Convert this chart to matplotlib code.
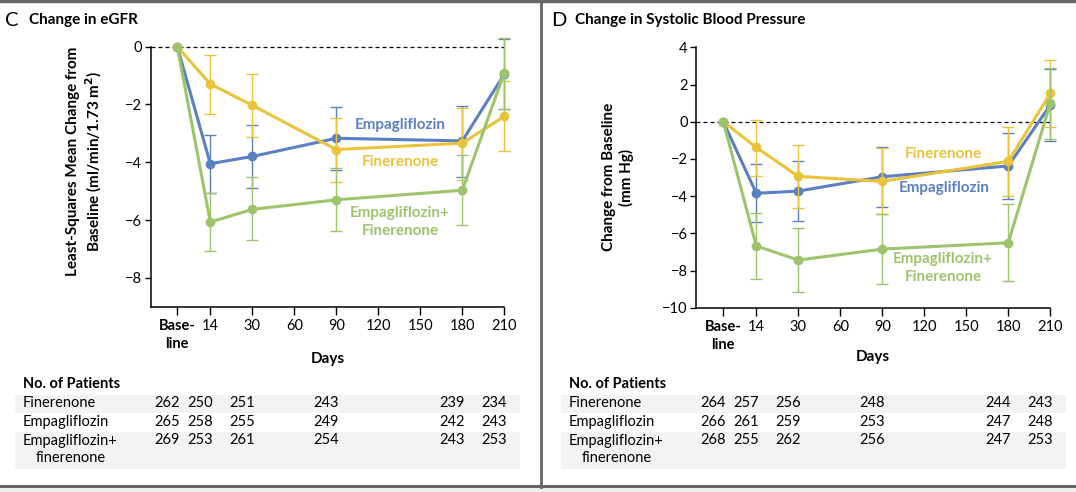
import matplotlib
matplotlib.use('Agg')
import matplotlib.pyplot as plt
import matplotlib.transforms as mtrans
from matplotlib.patches import Rectangle
from matplotlib.lines import Line2D

plt.rcParams['font.family'] = ['Lato', 'DejaVu Sans']

# ---------------- data ----------------
days = ['Baseline', 14, 30, 90, 180, 210]
ci_days = [14, 30, 90, 180, 210]
tick_days = ['Baseline', 14, 30, 60, 90, 120, 150, 180, 210]
tick_labels = ['Base-\nline', '14', '30', '60', '90', '120', '150', '180', '210']
series_names = ['Finerenone', 'Empagliflozin', 'Empagliflozin+\nfinerenone']

# Panel C: change in eGFR
egfr_emp = [0, -4.05, -3.80, -3.17, -3.26, -0.95]
egfr_emp_lo = [-5.06, -4.90, -4.26, -4.51, -2.15]
egfr_emp_hi = [-3.06, -2.71, -2.09, -2.07, 0.25]
egfr_fin = [0, -1.29, -2.03, -3.56, -3.34, -2.41]
egfr_fin_lo = [-2.33, -3.13, -4.68, -4.60, -3.61]
egfr_fin_hi = [-0.30, -0.95, -2.47, -2.11, -1.18]
egfr_combo = [0, -6.07, -5.63, -5.30, -4.97, -0.90]
egfr_combo_lo = [-7.08, -6.68, -6.37, -6.16, -2.15]
egfr_combo_hi = [-5.06, -4.51, -4.20, -3.75, 0.29]
egfr_patients_fin = [262, 250, 251, 243, 239, 234]
egfr_patients_emp = [265, 258, 255, 249, 242, 243]
egfr_patients_combo = [269, 253, 261, 254, 243, 253]

# Panel D: change in systolic blood pressure
sbp_emp = [0, -3.85, -3.73, -2.96, -2.38, 0.90]
sbp_emp_lo = [-5.39, -5.34, -4.59, -4.16, -1.02]
sbp_emp_hi = [-2.28, -2.11, -1.38, -0.61, 2.83]
sbp_fin = [0, -1.38, -2.94, -3.21, -2.13, 1.52]
sbp_fin_lo = [-2.94, -4.66, -4.98, -4.01, -0.29]
sbp_fin_hi = [0.09, -1.25, -1.42, -0.29, 3.30]
sbp_combo = [0, -6.68, -7.44, -6.85, -6.51, 1.00]
sbp_combo_lo = [-8.44, -9.16, -8.73, -8.55, -0.95]
sbp_combo_hi = [-4.93, -5.73, -4.98, -4.44, 2.87]
sbp_patients_fin = [264, 257, 256, 248, 244, 243]
sbp_patients_emp = [266, 261, 259, 253, 247, 248]
sbp_patients_combo = [268, 255, 262, 256, 247, 253]

# ---------------- style ----------------
BLUE = '#5b80c2'
YELLOW = '#e8c33b'
GREEN = '#9dc46c'
BORDER = '#676767'
BAND = '#f3f3f3'

W, H = 1076, 492
fig = plt.figure(figsize=(W / 100, H / 100), dpi=100)


def fx(x):
    return x / W


def fy(y):
    return 1 - y / H


def xpos(d):
    # visit axis: baseline, 14 days, then equally spaced 30-day steps
    if d == 'Baseline':
        return 0.0
    if d == 14:
        return 33 / 42
    return 75 / 42 + (d - 30) / 30


def make_axes(left_px, right_px, top_px, bottom_px, ylim, yticks):
    ax = fig.add_axes([fx(left_px), fy(bottom_px), (right_px - left_px) / W,
                       (bottom_px - top_px) / H])
    ax.set_ylim(*ylim)
    ax.spines['top'].set_visible(False)
    ax.spines['right'].set_visible(False)
    for s in ('left', 'bottom'):
        ax.spines[s].set_linewidth(1.1)
    ax.set_xticks([xpos(d) for d in tick_days])
    ax.set_xticklabels(tick_labels, fontsize=10.5)
    first = ax.get_xticklabels()[0]
    first.set_fontweight('bold')
    first.set_linespacing(1.45)
    ax.set_yticks(yticks)
    ax.set_yticklabels([f'{v}'.replace('-', '\u2212') for v in yticks], fontsize=10.5)
    ax.tick_params(axis='x', direction='out', length=5.5, width=1.0, pad=3)
    ax.tick_params(axis='y', direction='out', length=4, width=1.0, pad=2)
    ax.set_facecolor('none')
    ax.axhline(0, color='black', lw=0.9, ls=(0, (3.2, 2.4)), clip_on=False, zorder=1)
    return ax


def draw_series(ax, vals, lo, hi, color, z):
    xs = [xpos(d) for d in days]
    ax.plot(xs, vals, color=color, lw=2.2, marker='o', ms=6, mec=color, mfc=color,
            zorder=z, clip_on=False)
    cx = [xpos(d) for d in ci_days]
    centers = vals[1:]
    yerr = [[c - l for c, l in zip(centers, lo)], [h - c for c, h in zip(centers, hi)]]
    ax.errorbar(cx, centers, yerr=yerr, fmt='none', ecolor=color, elinewidth=1.0,
                capsize=4.2, capthick=1.0, zorder=z - 0.5, clip_on=False)


# ---------------- frame ----------------
fig.add_artist(Rectangle((0, 0), 1, fy(487), transform=fig.transFigure,
                         facecolor='#efeeec', edgecolor='none', zorder=0))
fig.add_artist(Line2D([0, 1], [fy(1), fy(1)], transform=fig.transFigure,
                      color=BORDER, lw=2.5))
fig.add_artist(Line2D([fx(541), fx(541)], [fy(0), fy(487)], transform=fig.transFigure,
                      color=BORDER, lw=2.0))
fig.add_artist(Line2D([0, 1], [fy(486), fy(486)], transform=fig.transFigure,
                      color=BORDER, lw=2.2))

# ---------------- panel C ----------------
axC = make_axes(150.7, 504.3, 46.7, 306.7, (-9, 0), [0, -2, -4, -6, -8])
axC.set_xlim(-26.6 / 42, xpos(210))
draw_series(axC, egfr_emp, egfr_emp_lo, egfr_emp_hi, BLUE, 3)
draw_series(axC, egfr_fin, egfr_fin_lo, egfr_fin_hi, YELLOW, 4)
draw_series(axC, egfr_combo, egfr_combo_lo, egfr_combo_hi, GREEN, 5)

# ---------------- panel D ----------------
axD = make_axes(696, 1050.3, 47.3, 307.7, (-10, 4), [4, 2, 0, -2, -4, -6, -8, -10])
axD.set_xlim(-27.3 / 42, xpos(210))
draw_series(axD, sbp_emp, sbp_emp_lo, sbp_emp_hi, BLUE, 3)
draw_series(axD, sbp_fin, sbp_fin_lo, sbp_fin_hi, YELLOW, 4)
draw_series(axD, sbp_combo, sbp_combo_lo, sbp_combo_hi, GREEN, 5)

# ---------------- titles and labels ----------------
fig.text(fx(5), fy(20), 'C', fontsize=14.5, va='center', ha='left')
fig.text(fx(29), fy(20), 'Change in eGFR', fontsize=11, fontweight='bold', va='center', ha='left')
fig.text(fx(551), fy(20), 'D', fontsize=14.5, va='center', ha='left')
fig.text(fx(575), fy(20), 'Change in Systolic Blood Pressure', fontsize=11, fontweight='bold',
         va='center', ha='left')

fig.text(fx(85), fy(161), 'Least-Squares Mean Change from\nBaseline (ml/min/1.73 m$^{\\mathbf{2}}$)',
         rotation=90, fontsize=11, fontweight='bold', ha='center', va='center',
         multialignment='center', linespacing=1.25)
fig.text(fx(618), fy(177), 'Change from Baseline\n(mm Hg)', rotation=90, fontsize=11,
         fontweight='bold', ha='center', va='center', multialignment='center', linespacing=1.25)

fig.text(fx(327.5), fy(359), 'Days', fontsize=11, fontweight='bold', ha='center', va='center')
fig.text(fx(873), fy(357), 'Days', fontsize=11, fontweight='bold', ha='center', va='center')

# in-plot series labels
fig.text(fx(400), fy(125), 'Empagliflozin', color=BLUE, fontsize=11, fontweight='bold',
         ha='center', va='center')
fig.text(fx(400), fy(162), 'Finerenone', color=YELLOW, fontsize=11, fontweight='bold',
         ha='center', va='center')
fig.text(fx(400), fy(222), 'Empagliflozin+\nFinerenone', color=GREEN, fontsize=11,
         fontweight='bold', ha='center', va='center', linespacing=1.3)
fig.text(fx(943), fy(154), 'Finerenone', color=YELLOW, fontsize=11, fontweight='bold',
         ha='center', va='center')
fig.text(fx(944), fy(188), 'Empagliflozin', color=BLUE, fontsize=11, fontweight='bold',
         ha='center', va='center')
fig.text(fx(943), fy(268), 'Empagliflozin+\nFinerenone', color=GREEN, fontsize=11,
         fontweight='bold', ha='center', va='center', linespacing=1.3)


# ---------------- patient tables ----------------
def draw_table(ax, label_x, band_x0, band_x1, rows):
    fig.add_artist(Rectangle((fx(band_x0), fy(413)), (band_x1 - band_x0) / W, 18 / H,
                             transform=fig.transFigure, facecolor=BAND, edgecolor='none', zorder=0.5))
    fig.add_artist(Rectangle((fx(band_x0), fy(469)), (band_x1 - band_x0) / W, 37 / H,
                             transform=fig.transFigure, facecolor=BAND, edgecolor='none', zorder=0.5))
    fig.text(fx(label_x), fy(384), 'No. of Patients', fontsize=10.5, fontweight='bold',
             ha='left', va='center')
    row_y = [403, 422, 440]
    trans = mtrans.blended_transform_factory(ax.transData, fig.transFigure) + \
        mtrans.ScaledTranslation(-0.1, 0, fig.dpi_scale_trans)
    for name, counts, y in zip(series_names, rows, row_y):
        if '\n' in name:
            fig.text(fx(label_x), fy(y + 9.5), name, fontsize=10.5, ha='left', va='center',
                     multialignment='center', linespacing=1.3)
        else:
            fig.text(fx(label_x), fy(y), name, fontsize=10.5, ha='left', va='center')
        for d, n in zip(days, counts):
            fig.text(xpos(d), fy(y), str(n), fontsize=10.5, ha='center', va='center',
                     transform=trans)


draw_table(axC, 23, 15, 520, [egfr_patients_fin, egfr_patients_emp, egfr_patients_combo])
draw_table(axD, 569, 561, 1066, [sbp_patients_fin, sbp_patients_emp, sbp_patients_combo])

fig.savefig('out.png', dpi=100)
